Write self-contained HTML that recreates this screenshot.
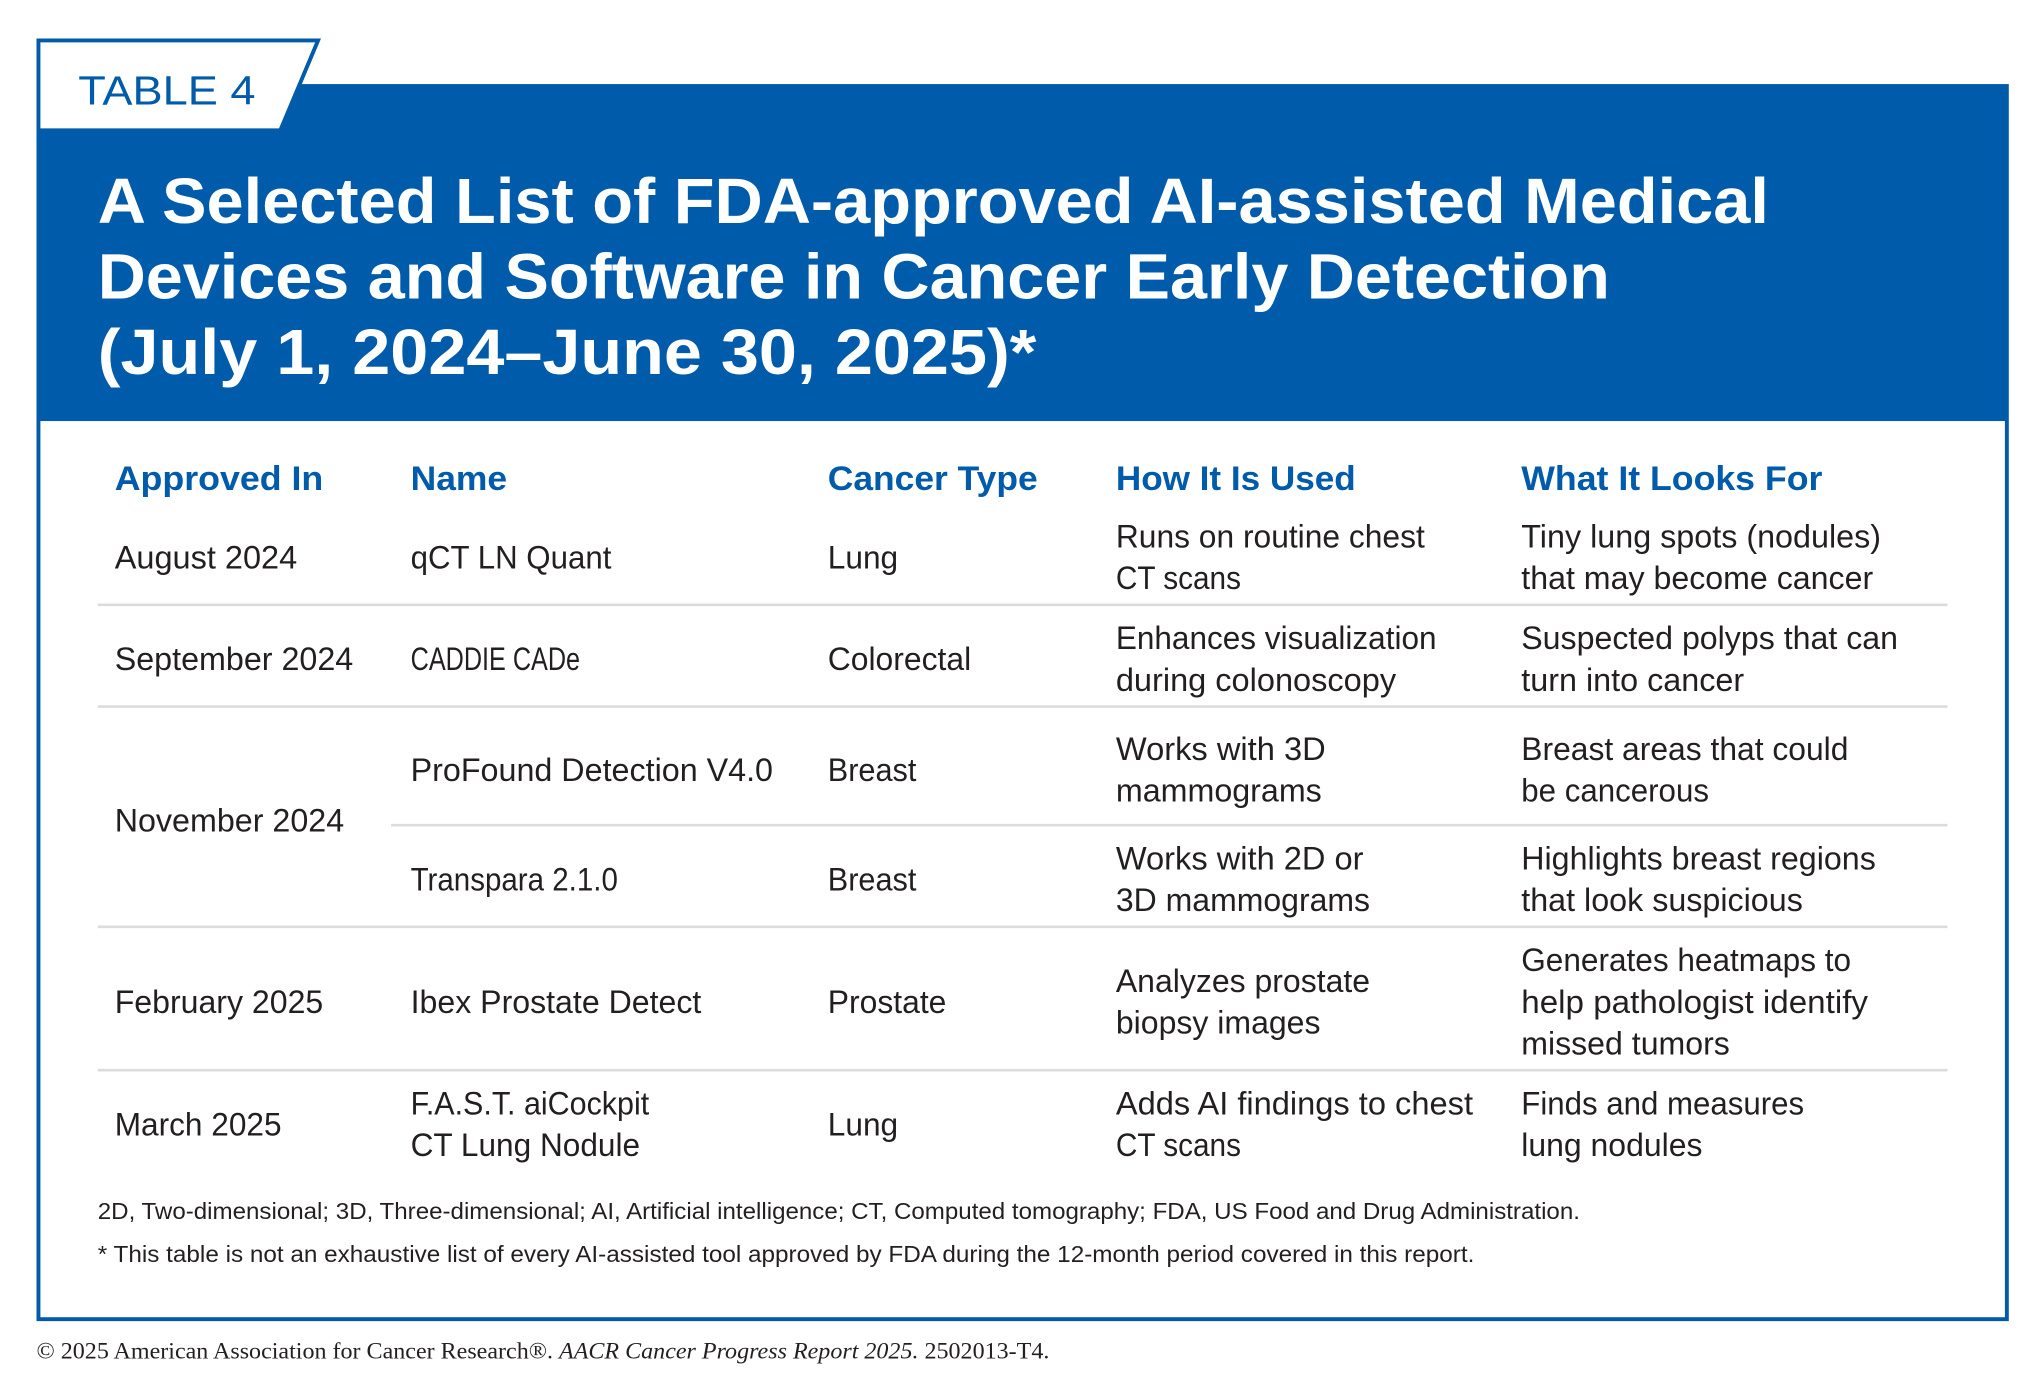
<!DOCTYPE html>
<html><head><meta charset="utf-8"><style>
html,body{margin:0;padding:0;background:#fff;}
svg{display:block;}
.b{font-family:"Liberation Sans",sans-serif;font-size:25px;fill:#231f20;}
.h{font-family:"Liberation Sans",sans-serif;font-size:26px;font-weight:bold;fill:#005baa;}
.t{font-family:"Liberation Sans",sans-serif;font-size:49px;font-weight:bold;fill:#fff;}
.f{font-family:"Liberation Sans",sans-serif;font-size:18px;fill:#231f20;}
.c{font-family:"Liberation Serif",serif;font-size:18px;fill:#231f20;}
</style></head><body>
<svg width="2044" height="1388" viewBox="0 0 1568 1064.8" preserveAspectRatio="none" xmlns="http://www.w3.org/2000/svg">
<rect x="28" y="66" width="1512" height="257" fill="#005baa"/>
<rect x="29.5" y="66" width="1510" height="946" fill="none" stroke="#005baa" stroke-width="3"/>
<polygon points="29.5,31 244,31 215,100 29.5,100" fill="#fff" stroke="#005baa" stroke-width="3"/>
<text x="60" y="80" font-family="Liberation Sans, sans-serif" font-size="31" fill="#005baa" textLength="136" lengthAdjust="spacingAndGlyphs">TABLE 4</text>
<g>
<text class="t" x="75" y="171" textLength="1282" lengthAdjust="spacingAndGlyphs">A Selected List of FDA-approved AI-assisted Medical</text>
<text class="t" x="75" y="229" textLength="1160" lengthAdjust="spacingAndGlyphs">Devices and Software in Cancer Early Detection</text>
<text class="t" x="75" y="287" textLength="720" lengthAdjust="spacingAndGlyphs">(July 1, 2024–June 30, 2025)*</text>
</g>
<g>
<text class="h" x="88" y="376" textLength="160" lengthAdjust="spacingAndGlyphs">Approved In</text>
<text class="h" x="315" y="376" textLength="74" lengthAdjust="spacingAndGlyphs">Name</text>
<text class="h" x="635" y="376" textLength="161" lengthAdjust="spacingAndGlyphs">Cancer Type</text>
<text class="h" x="856" y="376" textLength="184" lengthAdjust="spacingAndGlyphs">How It Is Used</text>
<text class="h" x="1167" y="376" textLength="231" lengthAdjust="spacingAndGlyphs">What It Looks For</text>
</g>
<g stroke="#dcdcdc" stroke-width="2">
<line x1="75" y1="464" x2="1494" y2="464"/>
<line x1="75" y1="542" x2="1494" y2="542"/>
<line x1="300" y1="633" x2="1494" y2="633"/>
<line x1="75" y1="711" x2="1494" y2="711"/>
<line x1="75" y1="821" x2="1494" y2="821"/>
</g>
<g>
<text class="b" x="88" y="436" textLength="140" lengthAdjust="spacingAndGlyphs">August 2024</text>
<text class="b" x="315" y="436" textLength="154" lengthAdjust="spacingAndGlyphs">qCT LN Quant</text>
<text class="b" x="635" y="436" textLength="54" lengthAdjust="spacingAndGlyphs">Lung</text>
<text class="b" x="856" y="420" textLength="237" lengthAdjust="spacingAndGlyphs">Runs on routine chest</text>
<text class="b" x="856" y="452" textLength="96" lengthAdjust="spacingAndGlyphs">CT scans</text>
<text class="b" x="1167" y="420" textLength="276" lengthAdjust="spacingAndGlyphs">Tiny lung spots (nodules)</text>
<text class="b" x="1167" y="452" textLength="270" lengthAdjust="spacingAndGlyphs">that may become cancer</text>
</g>
<g>
<text class="b" x="88" y="514" textLength="183" lengthAdjust="spacingAndGlyphs">September 2024</text>
<text class="b" x="315" y="514" textLength="130" lengthAdjust="spacingAndGlyphs">CADDIE CADe</text>
<text class="b" x="635" y="514" textLength="110" lengthAdjust="spacingAndGlyphs">Colorectal</text>
<text class="b" x="856" y="498" textLength="246" lengthAdjust="spacingAndGlyphs">Enhances visualization</text>
<text class="b" x="856" y="530" textLength="215" lengthAdjust="spacingAndGlyphs">during colonoscopy</text>
<text class="b" x="1167" y="498" textLength="289" lengthAdjust="spacingAndGlyphs">Suspected polyps that can</text>
<text class="b" x="1167" y="530" textLength="171" lengthAdjust="spacingAndGlyphs">turn into cancer</text>
</g>
<g>
<text class="b" x="88" y="638" textLength="176" lengthAdjust="spacingAndGlyphs">November 2024</text>
<text class="b" x="315" y="599" textLength="278" lengthAdjust="spacingAndGlyphs">ProFound Detection V4.0</text>
<text class="b" x="635" y="599" textLength="68" lengthAdjust="spacingAndGlyphs">Breast</text>
<text class="b" x="856" y="583" textLength="161" lengthAdjust="spacingAndGlyphs">Works with 3D</text>
<text class="b" x="856" y="615" textLength="158" lengthAdjust="spacingAndGlyphs">mammograms</text>
<text class="b" x="1167" y="583" textLength="251" lengthAdjust="spacingAndGlyphs">Breast areas that could</text>
<text class="b" x="1167" y="615" textLength="144" lengthAdjust="spacingAndGlyphs">be cancerous</text>
<text class="b" x="315" y="683" textLength="159" lengthAdjust="spacingAndGlyphs">Transpara 2.1.0</text>
<text class="b" x="635" y="683" textLength="68" lengthAdjust="spacingAndGlyphs">Breast</text>
<text class="b" x="856" y="667" textLength="190" lengthAdjust="spacingAndGlyphs">Works with 2D or</text>
<text class="b" x="856" y="699" textLength="195" lengthAdjust="spacingAndGlyphs">3D mammograms</text>
<text class="b" x="1167" y="667" textLength="272" lengthAdjust="spacingAndGlyphs">Highlights breast regions</text>
<text class="b" x="1167" y="699" textLength="216" lengthAdjust="spacingAndGlyphs">that look suspicious</text>
</g>
<g>
<text class="b" x="88" y="777" textLength="160" lengthAdjust="spacingAndGlyphs">February 2025</text>
<text class="b" x="315" y="777" textLength="223" lengthAdjust="spacingAndGlyphs">Ibex Prostate Detect</text>
<text class="b" x="635" y="777" textLength="91" lengthAdjust="spacingAndGlyphs">Prostate</text>
<text class="b" x="856" y="761" textLength="195" lengthAdjust="spacingAndGlyphs">Analyzes prostate</text>
<text class="b" x="856" y="793" textLength="157" lengthAdjust="spacingAndGlyphs">biopsy images</text>
<text class="b" x="1167" y="745" textLength="253" lengthAdjust="spacingAndGlyphs">Generates heatmaps to</text>
<text class="b" x="1167" y="777" textLength="266" lengthAdjust="spacingAndGlyphs">help pathologist identify</text>
<text class="b" x="1167" y="809" textLength="160" lengthAdjust="spacingAndGlyphs">missed tumors</text>
</g>
<g>
<text class="b" x="88" y="871" textLength="128" lengthAdjust="spacingAndGlyphs">March 2025</text>
<text class="b" x="315" y="855" textLength="183" lengthAdjust="spacingAndGlyphs">F.A.S.T. aiCockpit</text>
<text class="b" x="315" y="887" textLength="176" lengthAdjust="spacingAndGlyphs">CT Lung Nodule</text>
<text class="b" x="635" y="871" textLength="54" lengthAdjust="spacingAndGlyphs">Lung</text>
<text class="b" x="856" y="855" textLength="274" lengthAdjust="spacingAndGlyphs">Adds AI findings to chest</text>
<text class="b" x="856" y="887" textLength="96" lengthAdjust="spacingAndGlyphs">CT scans</text>
<text class="b" x="1167" y="855" textLength="217" lengthAdjust="spacingAndGlyphs">Finds and measures</text>
<text class="b" x="1167" y="887" textLength="139" lengthAdjust="spacingAndGlyphs">lung nodules</text>
</g>
<g>
<text class="f" x="75" y="935" textLength="1137" lengthAdjust="spacingAndGlyphs">2D, Two-dimensional; 3D, Three-dimensional; AI, Artificial intelligence; CT, Computed tomography; FDA, US Food and Drug Administration.</text>
<text class="f" x="75" y="968" textLength="1056" lengthAdjust="spacingAndGlyphs">* This table is not an exhaustive list of every AI-assisted tool approved by FDA during the 12-month period covered in this report.</text>
</g>
<text class="c" x="28" y="1042" textLength="777" lengthAdjust="spacingAndGlyphs">© 2025 American Association for Cancer Research®. <tspan font-style="italic">AACR Cancer Progress Report 2025.</tspan> 2502013-T4.</text>
</svg>
</body></html>
